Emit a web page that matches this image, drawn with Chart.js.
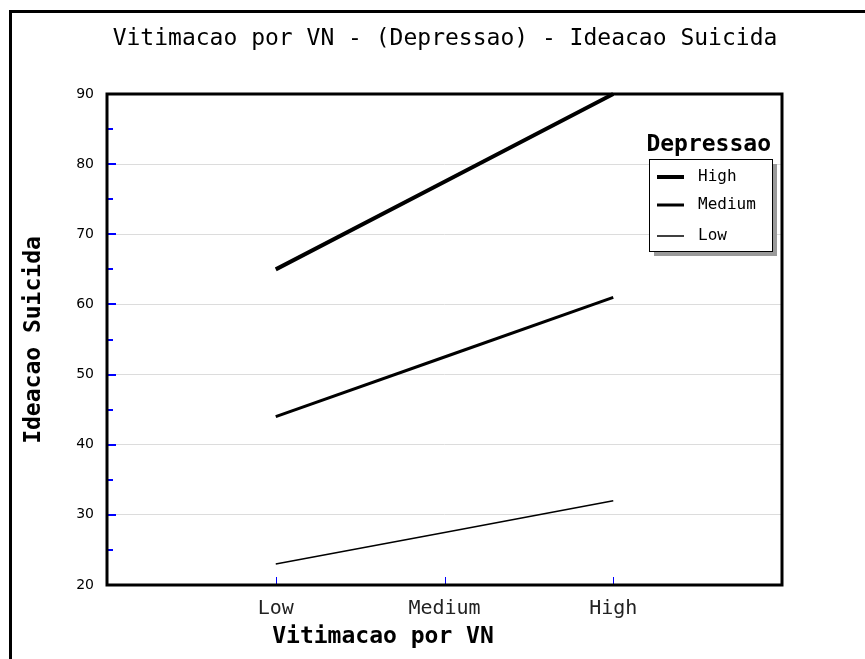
<!DOCTYPE html>
<html>
<head>
<meta charset="utf-8">
<script src="https://cdn.jsdelivr.net/npm/chart.js@4/dist/chart.umd.min.js"></script>
<style>
  html, body { margin: 0; padding: 0; background: #fff; }
  #wrap { width: 865px; height: 659px; }
</style>
</head>
<body>
<div id="wrap"><canvas id="chart" width="865" height="659"></canvas></div>
<script>
// data
var categories = ['Low', 'Medium', 'High'];
var seriesNames = ['High', 'Medium', 'Low'];
var highValues = [65, 77.5, 90];
var mediumValues = [44, 52.5, 61];
var lowValues = [23, 27.5, 32];
var yTicks = [20, 30, 40, 50, 60, 70, 80, 90];

var chartTitle = 'Vitimacao por VN - (Depressao) - Ideacao Suicida';
var xTitle = 'Vitimacao por VN';
var yTitle = 'Ideacao Suicida';
var legendTitle = 'Depressao';

var mono = '"DejaVu Sans Mono", "Liberation Mono", monospace';

function points(vals) {
  return vals.map(function(v, i) { return { x: i, y: v }; });
}

// frame, title, axis titles, ticks and legend
var decorations = {
  id: 'decorations',
  beforeDraw: function(chart) {
    var ctx = chart.ctx;
    ctx.save();
    ctx.fillStyle = '#fff';
    ctx.fillRect(0, 0, chart.width, chart.height);
    ctx.strokeStyle = '#000';
    ctx.lineWidth = 3;
    ctx.beginPath();
    ctx.moveTo(10.5, 659);
    ctx.lineTo(10.5, 11.5);
    ctx.lineTo(865, 11.5);
    ctx.stroke();
    ctx.restore();
  },
  afterDraw: function(chart) {
    var ctx = chart.ctx;
    var a = chart.chartArea;
    var xs = chart.scales.x, ys = chart.scales.y;
    ctx.save();

    // blue ticks
    ctx.strokeStyle = '#0000ff';
    ctx.lineWidth = 2;
    for (var v = ys.min + 5; v < ys.max; v += 5) {
      var py = Math.round(ys.getPixelForValue(v));
      var len = (v % 10 === 0) ? 9 : 6;
      ctx.beginPath();
      ctx.moveTo(a.left, py);
      ctx.lineTo(a.left + len, py);
      ctx.stroke();
    }
    ctx.lineWidth = 1;
    categories.forEach(function(c, i) {
      var px = Math.round(xs.getPixelForValue(i)) + 0.5;
      ctx.beginPath();
      ctx.moveTo(px, a.bottom);
      ctx.lineTo(px, a.bottom - 8);
      ctx.stroke();
    });

    // plot box
    ctx.strokeStyle = '#000';
    ctx.lineWidth = 3;
    ctx.strokeRect(a.left, a.top, a.right - a.left, a.bottom - a.top);

    // title
    ctx.fillStyle = '#000';
    ctx.textAlign = 'center';
    ctx.textBaseline = 'middle';
    ctx.font = '23px ' + mono;
    ctx.fillText(chartTitle, 445, 39);

    // axis titles
    ctx.font = 'bold 23px ' + mono;
    ctx.fillText(xTitle, 383, 637);
    ctx.save();
    ctx.translate(34, 340);
    ctx.rotate(-Math.PI / 2);
    ctx.fillText(yTitle, 0, 0);
    ctx.restore();

    // legend
    var lx = 649, ly = 159, lw = 123, lh = 92;
    ctx.fillStyle = '#9a9a9a';
    ctx.fillRect(lx + 5, ly + 5, lw, lh);
    ctx.fillStyle = '#fff';
    ctx.fillRect(lx, ly, lw, lh);
    ctx.strokeStyle = '#000';
    ctx.lineWidth = 1;
    ctx.strokeRect(lx + 0.5, ly + 0.5, lw, lh);

    ctx.fillStyle = '#000';
    ctx.textAlign = 'right';
    ctx.font = 'bold 23px ' + mono;
    ctx.fillText(legendTitle, 771, 145);

    ctx.textAlign = 'left';
    ctx.font = '16px ' + mono;
    var rows = [177, 205, 236];
    chart.data.datasets.forEach(function(ds, i) {
      ctx.strokeStyle = ds.borderColor;
      ctx.lineWidth = ds.borderWidth;
      ctx.beginPath();
      ctx.moveTo(657, rows[i]);
      ctx.lineTo(684, rows[i]);
      ctx.stroke();
      ctx.fillStyle = '#000';
      ctx.fillText(ds.label, 698, rows[i]);
    });

    ctx.restore();
  }
};

new Chart(document.getElementById('chart'), {
  type: 'line',
  data: {
    datasets: [
      { label: seriesNames[0], data: points(highValues), borderColor: '#000', borderWidth: 4 },
      { label: seriesNames[1], data: points(mediumValues), borderColor: '#000', borderWidth: 3 },
      { label: seriesNames[2], data: points(lowValues), borderColor: '#000', borderWidth: 1.5 }
    ]
  },
  options: {
    responsive: false,
    animation: false,
    events: [],
    clip: false,
    elements: { point: { radius: 0 }, line: { tension: 0 } },
    layout: { padding: { left: 0, top: 94, right: 865 - 782, bottom: 0 } },
    plugins: { legend: { display: false }, title: { display: false }, tooltip: { enabled: false } },
    scales: {
      x: {
        type: 'linear',
        min: -1,
        max: categories.length,
        afterFit: function(s) { s.height = 659 - 585; },
        afterBuildTicks: function(s) {
          s.ticks = categories.map(function(c, i) { return { value: i }; });
        },
        ticks: {
          padding: 12,
          color: '#222',
          font: { family: mono, size: 20 },
          maxRotation: 0,
          callback: function(v) { return categories[v]; }
        },
        grid: { display: false, drawTicks: false },
        border: { display: false }
      },
      y: {
        min: yTicks[0],
        max: yTicks[yTicks.length - 1],
        afterFit: function(s) { s.width = 107; },
        afterBuildTicks: function(s) {
          s.ticks = yTicks.map(function(v) { return { value: v }; });
        },
        ticks: {
          padding: 13,
          color: '#000',
          font: { family: '"DejaVu Sans", sans-serif', size: 14 }
        },
        grid: { color: '#dcdcdc', lineWidth: 1, drawTicks: false },
        border: { display: false }
      }
    }
  },
  plugins: [decorations]
});
</script>
</body>
</html>
